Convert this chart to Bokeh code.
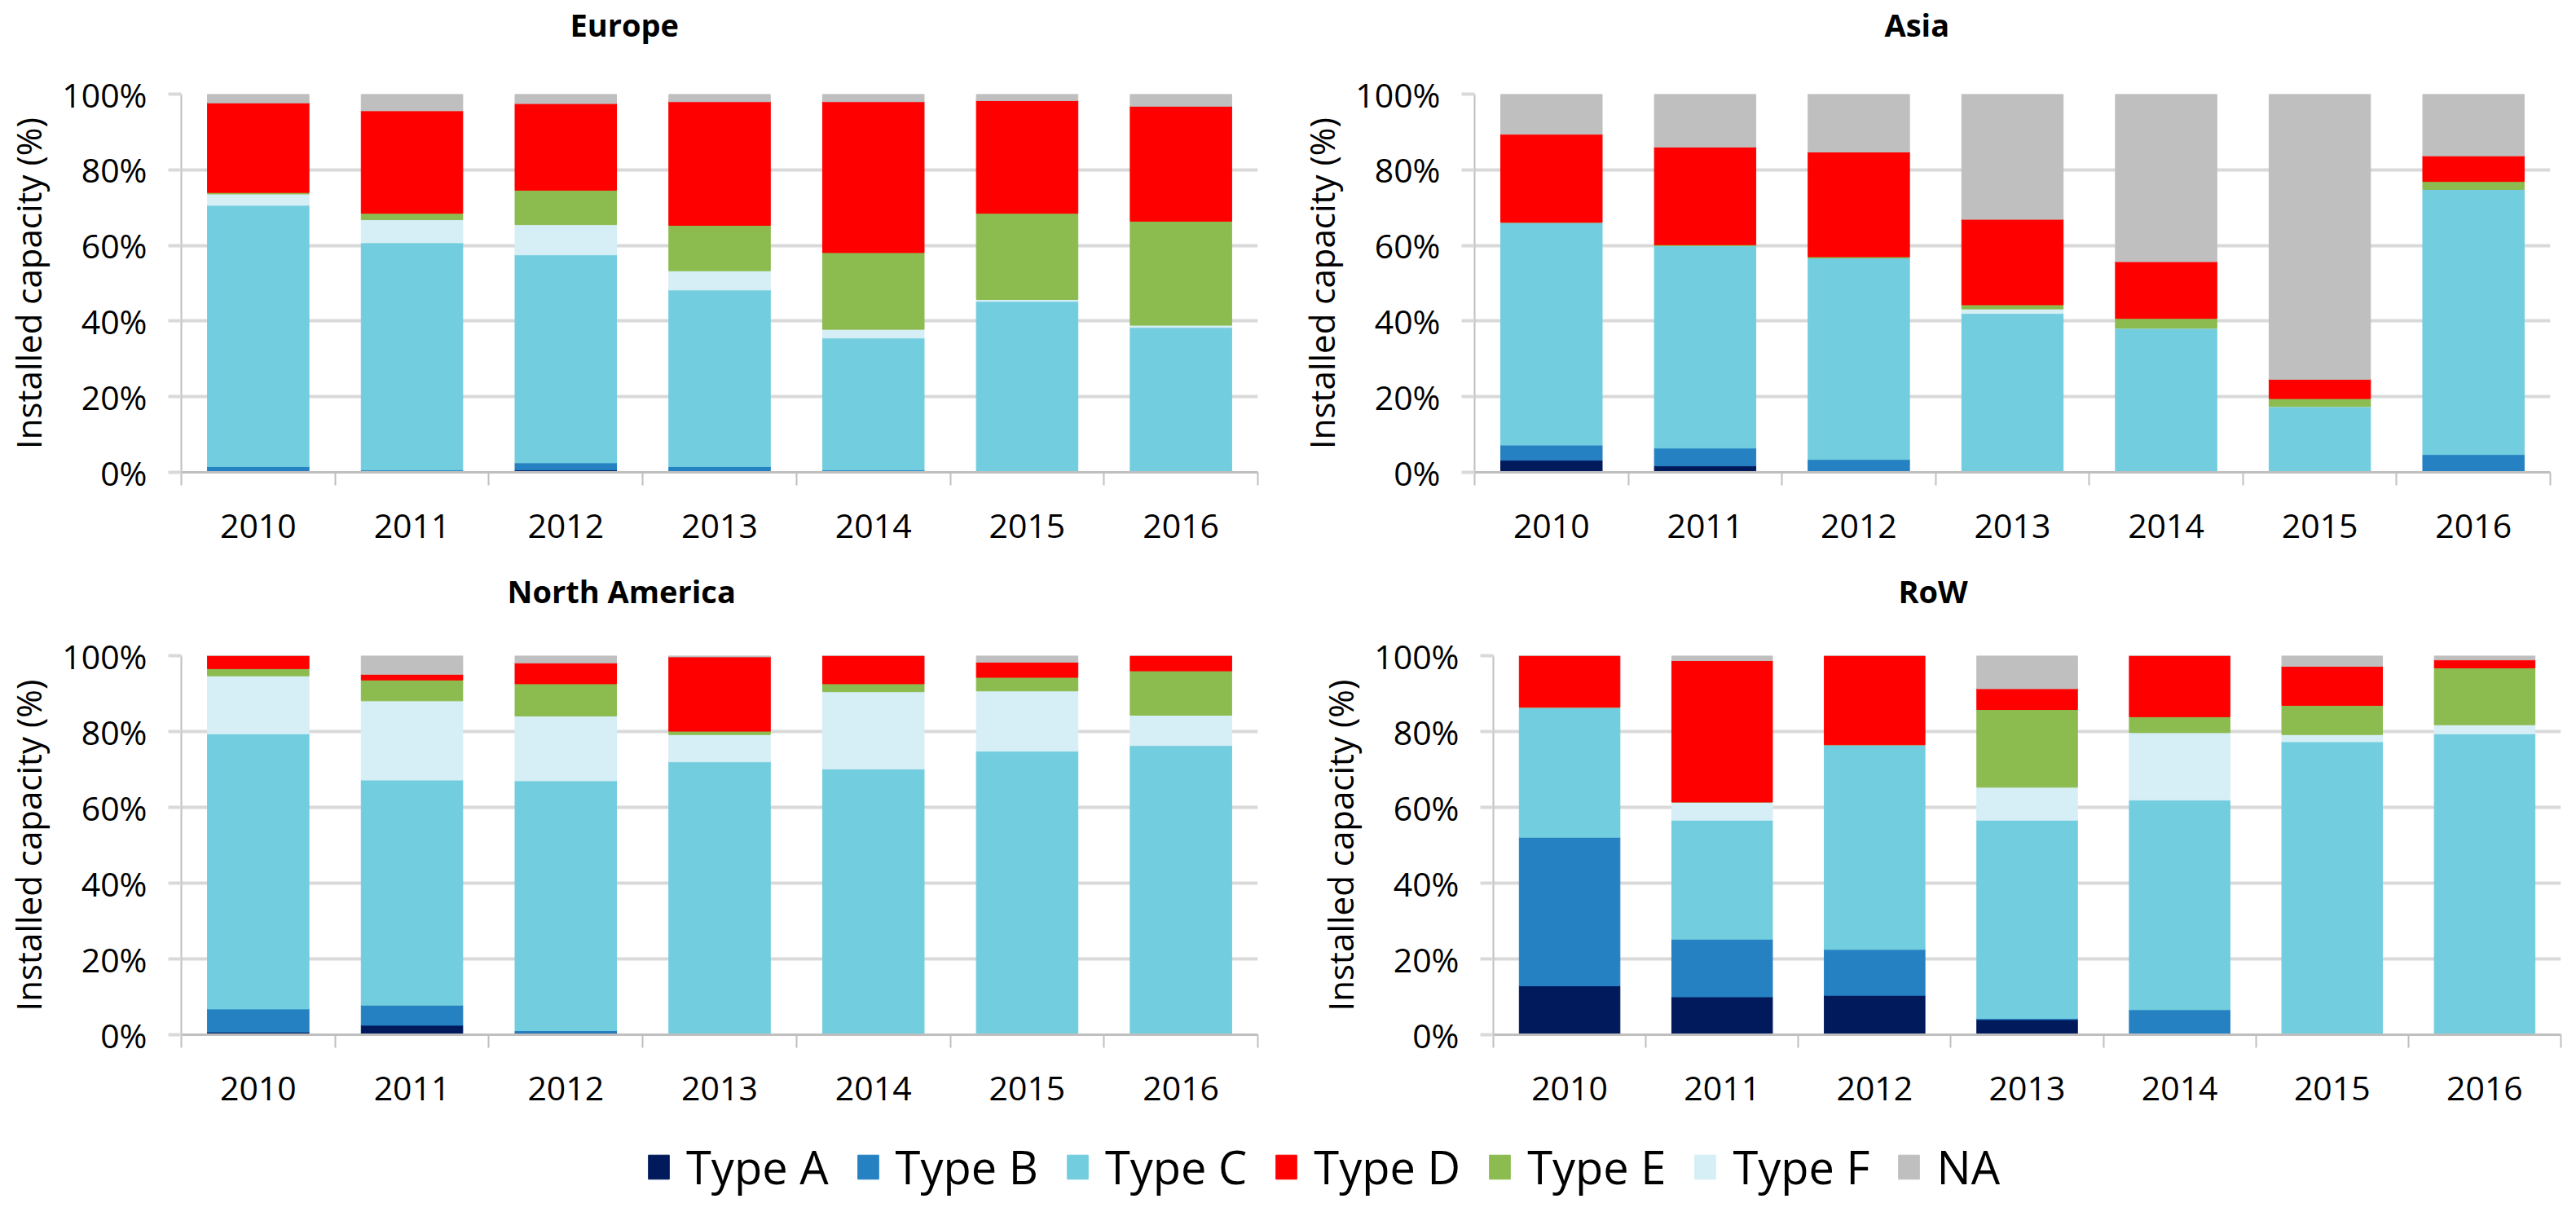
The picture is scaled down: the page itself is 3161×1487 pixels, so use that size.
from bokeh.plotting import figure
from bokeh.models import (ColumnDataSource, Range1d, FixedTicker, PrintfTickFormatter,
                          CustomJSTickFormatter, Legend, LegendItem, Title)
from bokeh.layouts import column, row
from bokeh.embed import file_html
from bokeh.resources import INLINE

# ---------------- data ----------------
years = ["2010", "2011", "2012", "2013", "2014", "2015", "2016"]
y_ticks = [0, 20, 40, 60, 80, 100]

# stacking order bottom -> top
stack_keys = ["A", "B", "C", "F", "E", "D", "NA"]
legend_keys = ["A", "B", "C", "D", "E", "F", "NA"]
labels = {"A": "Type A", "B": "Type B", "C": "Type C", "D": "Type D",
          "E": "Type E", "F": "Type F", "NA": "NA"}
colors = {"A": "#001A5C", "B": "#2581C1", "C": "#72CDDF", "D": "#FF0000",
          "E": "#8CBB50", "F": "#D6EEF5", "NA": "#BFBFBF"}

europe = {
    "A":  [0.3, 0.1, 0.6, 0.3, 0.1, 0.0, 0.0],
    "B":  [1.2, 0.5, 1.9, 1.2, 0.5, 0.0, 0.0],
    "C":  [69.1, 60.1, 55.0, 46.7, 34.9, 45.2, 38.3],
    "F":  [3.0, 6.1, 8.0, 5.1, 2.3, 0.5, 0.6],
    "E":  [0.4, 1.7, 9.1, 12.0, 20.3, 22.8, 27.5],
    "D":  [23.7, 27.1, 22.9, 32.7, 39.9, 29.8, 30.4],
    "NA": [2.3, 4.4, 2.5, 2.0, 2.0, 1.7, 3.2],
}
asia = {
    "A":  [3.2, 1.7, 0.0, 0.0, 0.0, 0.0, 0.0],
    "B":  [4.0, 4.7, 3.4, 0.0, 0.0, 0.0, 4.7],
    "C":  [58.9, 53.5, 53.3, 42.0, 38.1, 17.4, 70.1],
    "F":  [0.0, 0.0, 0.0, 1.2, 0.0, 0.0, 0.0],
    "E":  [0.0, 0.3, 0.3, 1.1, 2.6, 2.1, 2.1],
    "D":  [23.3, 25.8, 27.7, 22.6, 15.0, 5.1, 6.8],
    "NA": [10.6, 14.0, 15.3, 33.1, 44.3, 75.4, 16.3],
}
north_america = {
    "A":  [0.7, 2.5, 0.5, 0.0, 0.0, 0.0, 0.0],
    "B":  [6.1, 5.3, 0.6, 0.0, 0.0, 0.0, 0.0],
    "C":  [72.6, 59.4, 65.9, 72.0, 70.1, 74.8, 76.3],
    "F":  [15.3, 20.9, 17.1, 7.2, 20.4, 15.9, 8.0],
    "E":  [1.9, 5.5, 8.5, 0.9, 2.1, 3.6, 11.7],
    "D":  [3.4, 1.5, 5.5, 19.6, 7.4, 4.0, 4.0],
    "NA": [0.0, 4.9, 1.9, 0.3, 0.0, 1.7, 0.0],
}
row_world = {
    "A":  [12.9, 10.0, 10.4, 4.0, 0.0, 0.0, 0.0],
    "B":  [39.2, 15.2, 12.1, 0.3, 6.6, 0.0, 0.0],
    "C":  [34.3, 31.4, 54.0, 52.3, 55.3, 77.3, 79.4],
    "F":  [0.0, 4.8, 0.0, 8.7, 17.8, 1.9, 2.4],
    "E":  [0.0, 0.0, 0.0, 20.5, 4.2, 7.7, 15.0],
    "D":  [13.6, 37.3, 23.5, 5.5, 16.1, 10.3, 2.1],
    "NA": [0.0, 1.3, 0.0, 8.7, 0.0, 2.8, 1.1],
}

FONT = "Open Sans"
x_centers = [i + 0.5 for i in range(len(years))]


def make_source(data):
    d = {"x": x_centers}
    for k in stack_keys:
        d[k] = data[k]
    return ColumnDataSource(d)


def make_panel(title, data, w, h, bl, br, bt, bb, title_off, spacer_gap):
    src = make_source(data)
    p = figure(width=w, height=h, x_range=Range1d(0, len(years)), y_range=Range1d(0, 100),
               output_backend="svg", toolbar_location=None,
               min_border_left=bl, min_border_right=br,
               min_border_top=bt, min_border_bottom=bb)
    p.vbar_stack(stack_keys, x="x", width=0.66, source=src,
                 color=[colors[k] for k in stack_keys])
    p.outline_line_color = None
    p.background_fill_color = "white"
    p.border_fill_color = "white"

    # spacer panel between frame and title (keeps the title well above the bars)
    p.add_layout(Title(text=" ", text_font=FONT, text_font_size="38px",
                       text_font_style="bold", standoff=spacer_gap), "above")

    # title
    p.title.text = title
    p.title.text_font = FONT
    p.title.text_font_size = "38px"
    p.title.text_font_style = "bold"
    p.title.text_color = "black"
    p.title.align = "left"
    p.title.vertical_align = "bottom"
    p.title.offset = title_off
    p.title.standoff = 0

    # grid
    p.xgrid.visible = False
    p.ygrid.grid_line_color = "#D9D9D9"
    p.ygrid.grid_line_width = 4

    # x axis
    xa = p.xaxis[0]
    xa.ticker = FixedTicker(ticks=x_centers, minor_ticks=list(range(len(years) + 1)))
    xa.formatter = CustomJSTickFormatter(args=dict(labels=years),
                                         code="return labels[Math.floor(tick)];")
    xa.major_tick_line_color = None
    xa.major_tick_out = 0
    xa.major_tick_in = 0
    xa.minor_tick_line_color = "#BFBFBF"
    xa.minor_tick_line_width = 2
    xa.minor_tick_out = 16
    xa.minor_tick_in = 0
    xa.axis_line_color = "#BFBFBF"
    xa.axis_line_width = 3
    xa.major_label_text_font = FONT
    xa.major_label_text_font_size = "41px"
    xa.major_label_text_color = "black"
    xa.major_label_standoff = 35

    # y axis
    ya = p.yaxis[0]
    ya.ticker = FixedTicker(ticks=y_ticks)
    ya.formatter = PrintfTickFormatter(format="%d%%")
    ya.minor_tick_line_color = None
    ya.major_tick_out = 16
    ya.major_tick_in = 0
    ya.major_tick_line_color = "#D9D9D9"
    ya.major_tick_line_width = 4
    ya.axis_line_color = "#BFBFBF"
    ya.axis_line_width = 2
    ya.major_label_text_font = FONT
    ya.major_label_text_font_size = "41px"
    ya.major_label_text_color = "black"
    ya.major_label_standoff = 26
    ya.axis_label = "Installed capacity (%)"
    ya.axis_label_text_font = FONT
    ya.axis_label_text_font_size = "42px"
    ya.axis_label_text_font_style = "normal"
    ya.axis_label_text_color = "black"
    ya.axis_label_standoff = 10
    return p


p1 = make_panel("Europe", europe, 1572, 696, 222, 29, 106, 117, 477, 6)
p2 = make_panel("Asia", asia, 1573, 696, 237, 16, 115, 109, 503, 6)
p3 = make_panel("North America", north_america, 1572, 686, 222, 29, 104, 110, 400, 0)
p4 = make_panel("RoW", row_world, 1573, 686, 260, 3, 101, 113, 497, 0)

# legend strip: swatch renderers are positioned below the visible frame (clipped away)
leg = figure(width=3145, height=89, x_range=Range1d(0, len(years)), y_range=Range1d(200, 300),
             output_backend="svg", toolbar_location=None, min_border=0,
             x_axis_location=None, y_axis_location=None)
leg.outline_line_color = None
leg.grid.visible = False
leg_src = make_source(europe)
rends = leg.vbar_stack(stack_keys, x="x", width=0.66, source=leg_src,
                       color=[colors[k] for k in stack_keys])
rmap = dict(zip(stack_keys, rends))
legend = Legend(items=[LegendItem(label=labels[k], renderers=[rmap[k]]) for k in legend_keys],
                orientation="horizontal", location=(792, 2),
                glyph_width=32, glyph_height=37, label_standoff=18, spacing=32,
                padding=0, margin=0, border_line_color=None, background_fill_alpha=0,
                label_text_font=FONT, label_text_font_size="56px", label_text_color="black")
leg.add_layout(legend, "center")

layout = column(row(p1, p2), row(p3, p4), leg)
open("out.html", "w").write(file_html(layout, INLINE))
